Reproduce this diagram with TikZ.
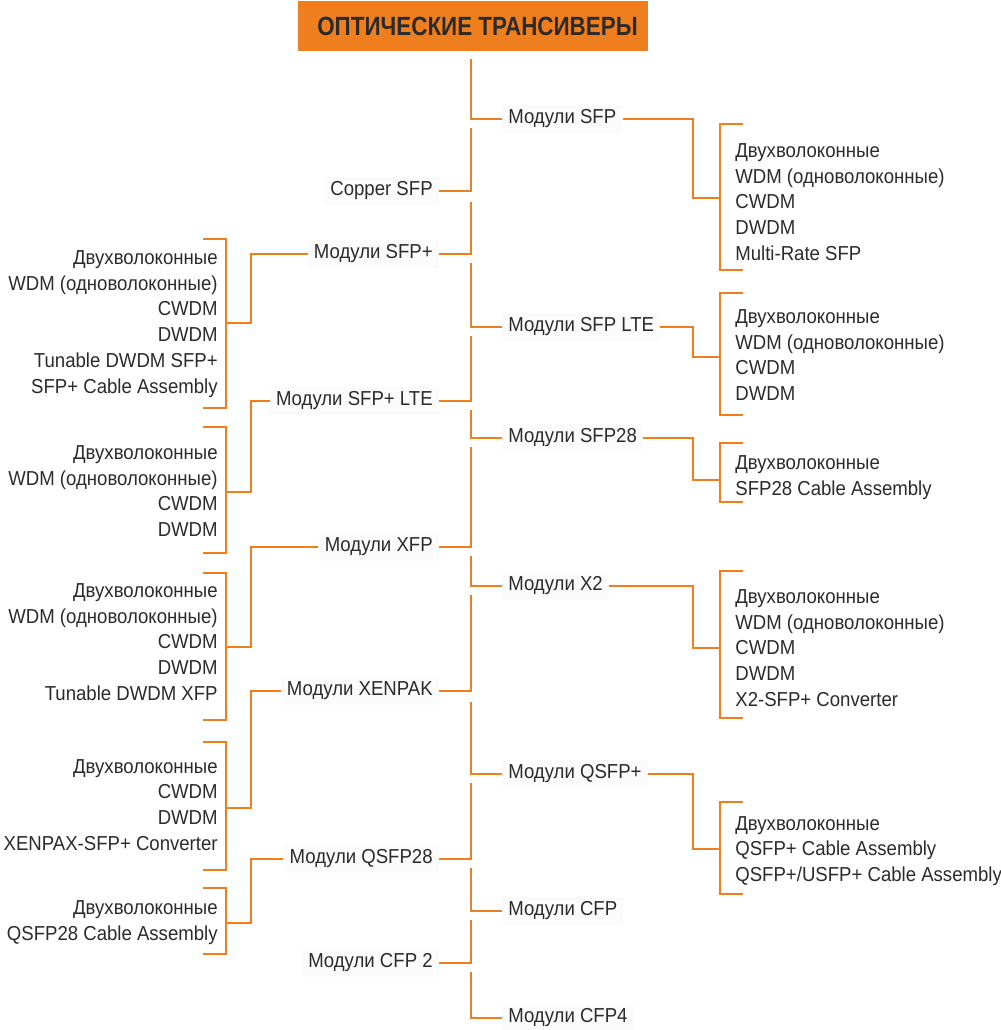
\documentclass[tikz,border=0pt]{standalone}
\usepackage{fontspec}
\setmainfont{Liberation Sans}[FakeStretch=0.92]
\newfontfamily\titlefont{Liberation Sans}[FakeStretch=0.85]
\usetikzlibrary{positioning,calc}
\definecolor{trorange}{HTML}{EF7F1E}
\definecolor{trtext}{HTML}{2B2B2B}

\begin{document}
\begin{tikzpicture}[x=0.02cm,y=-0.02cm,
  every node/.style={font=\fontsize{11.5}{14.7}\selectfont,text=trtext},
  ln/.style={draw=trorange,line width=1.4pt},
  title/.style={fill=trorange,minimum width=7cm,minimum height=1cm,inner sep=0pt,
    font=\titlefont\bfseries\fontsize{15}{18}\selectfont},
  modr/.style={anchor=west,fill=black!1.5,inner xsep=3.4pt,inner ysep=3pt},
  modl/.style={anchor=east,fill=black!1.5,inner xsep=3.4pt,inner ysep=3pt},
  subr/.style={anchor=west,align=left,inner sep=0pt},
  subl/.style={anchor=east,align=right,inner sep=0pt}]
\useasboundingbox (0,0) rectangle (1000,1030);

\node[title] (title) at (473,26) {\hspace*{0.18cm}ОПТИЧЕСКИЕ ТРАНСИВЕРЫ};

\node[modr] (sfp) at (502,119) {Модули SFP};
\node[modr] (sfplte) at (502,327) {Модули SFP LTE};
\node[modr] (sfp28) at (502,438) {Модули SFP28};
\node[modr] (xtwo) at (502,586) {Модули X2};
\node[modr] (qsfpp) at (502,774) {Модули QSFP+};
\node[modr] (cfp) at (502,911) {Модули CFP};
\node[modr] (cfpfour) at (502,1018) {Модули CFP4};

\node[modl] (copper) at (439,191) {Copper SFP};
\node[modl] (sfpp) at (439,254) {Модули SFP+};
\node[modl] (sfpplte) at (439,401) {Модули SFP+ LTE};
\node[modl] (xfp) at (439,547) {Модули XFP};
\node[modl] (xenpak) at (439,691) {Модули XENPAK};
\node[modl] (qsfp28) at (439,859) {Модули QSFP28};
\node[modl] (cfptwo) at (439,963) {Модули CFP 2};

\node[subr] (sfpS) at (735,202) {Двухволоконные\\WDM (одноволоконные)\\CWDM\\DWDM\\Multi-Rate SFP};
\node[subr] (sfplteS) at (735,355) {Двухволоконные\\WDM (одноволоконные)\\CWDM\\DWDM};
\node[subr] (sfp28S) at (735,478) {Двухволоконные\\SFP28 Cable Assembly};
\node[subr] (xtwoS) at (735,648) {Двухволоконные\\WDM (одноволоконные)\\CWDM\\DWDM\\X2-SFP+ Converter};
\node[subr] (qsfppS) at (735,851) {Двухволоконные\\QSFP+ Cable Assembly\\QSFP+/USFP+ Cable Assembly};

\node[subl] (sfppS) at (218,324) {Двухволоконные\\WDM (одноволоконные)\\CWDM\\DWDM\\Tunable DWDM SFP+\\SFP+ Cable Assembly};
\node[subl] (sfpplteS) at (218,491) {Двухволоконные\\WDM (одноволоконные)\\CWDM\\DWDM};
\node[subl] (xfpS) at (218,642) {Двухволоконные\\WDM (одноволоконные)\\CWDM\\DWDM\\Tunable DWDM XFP};
\node[subl] (xenpakS) at (218,805) {Двухволоконные\\CWDM\\DWDM\\XENPAX-SFP+ Converter};
\node[subl] (qsfp28S) at (218,923) {Двухволоконные\\QSFP28 Cable Assembly};

\coordinate (top) at (471,59);
\coordinate (rjog) at (693,0);
\coordinate (ljog) at (251,0);

\draw[ln] (top) |- (sfp.west);
\draw[ln] (471,128) |- (copper.east);
\draw[ln] (471,202) |- (sfpp.east);
\draw[ln] (471,263) |- (sfplte.west);
\draw[ln] (471,336) |- (sfpplte.east);
\draw[ln] (471,410) |- (sfp28.west);
\draw[ln] (471,447) |- (xfp.east);
\draw[ln] (471,556) |- (xtwo.west);
\draw[ln] (471,595) |- (xenpak.east);
\draw[ln] (471,702) |- (qsfpp.west);
\draw[ln] (471,783) |- (qsfp28.east);
\draw[ln] (471,868) |- (cfp.west);
\draw[ln] (471,920) |- (cfptwo.east);
\draw[ln] (471,972) |- (cfpfour.west);

\coordinate (sfpB) at (720,198);
\coordinate (sfplteB) at (720,357);
\coordinate (sfp28B) at (720,480);
\coordinate (xtwoB) at (720,648);
\coordinate (qsfppB) at (720,849);
\coordinate (sfppB) at (226,323);
\coordinate (sfpplteB) at (226,492);
\coordinate (xfpB) at (226,647);
\coordinate (xenpakB) at (226,808);
\coordinate (qsfp28B) at (226,923);

\draw[ln] (sfp.east) -- (rjog |- sfp.east) |- (sfpB);
\draw[ln] (sfplte.east) -- (rjog |- sfplte.east) |- (sfplteB);
\draw[ln] (sfp28.east) -- (rjog |- sfp28.east) |- (sfp28B);
\draw[ln] (xtwo.east) -- (rjog |- xtwo.east) |- (xtwoB);
\draw[ln] (qsfpp.east) -- (rjog |- qsfpp.east) |- (qsfppB);
\draw[ln] (sfpp.west) -- (ljog |- sfpp.west) |- (sfppB);
\draw[ln] (sfpplte.west) -- (ljog |- sfpplte.west) |- (sfpplteB);
\draw[ln] (xfp.west) -- (ljog |- xfp.west) |- (xfpB);
\draw[ln] (xenpak.west) -- (ljog |- xenpak.west) |- (xenpakB);
\draw[ln] (qsfp28.west) -- (ljog |- qsfp28.west) |- (qsfp28B);

\draw[ln] (743,124) -- (720,124) -- (720,270) -- (743,270);
\draw[ln] (743,293) -- (720,293) -- (720,415) -- (743,415);
\draw[ln] (743,443) -- (720,443) -- (720,502) -- (743,502);
\draw[ln] (743,571) -- (720,571) -- (720,718) -- (743,718);
\draw[ln] (743,802) -- (720,802) -- (720,894) -- (743,894);
\draw[ln] (203,239) -- (226,239) -- (226,408) -- (203,408);
\draw[ln] (203,427) -- (226,427) -- (226,553) -- (203,553);
\draw[ln] (203,573) -- (226,573) -- (226,720) -- (203,720);
\draw[ln] (203,742) -- (226,742) -- (226,870) -- (203,870);
\draw[ln] (203,888) -- (226,888) -- (226,954) -- (203,954);
\end{tikzpicture}
\end{document}
